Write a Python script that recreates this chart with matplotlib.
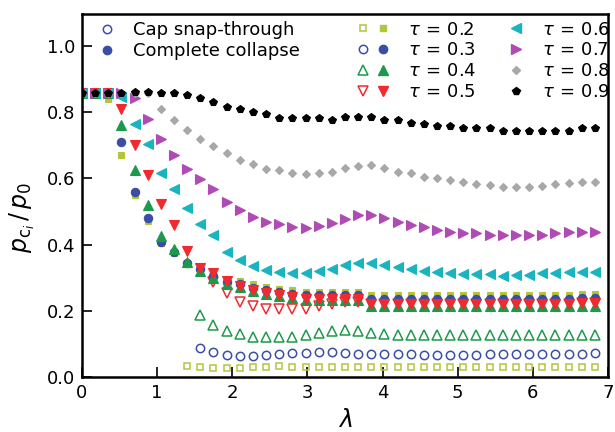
import numpy as np
import matplotlib
matplotlib.use("Agg")
import matplotlib.pyplot as plt
from matplotlib.lines import Line2D
from matplotlib.legend_handler import HandlerTuple

plt.rcParams['font.family'] = ['DejaVu Sans']
plt.rcParams['mathtext.fontset'] = 'dejavusans'

nan = np.nan

# lambda grid (step 0.175)
lam = [0.0, 0.175, 0.35, 0.525, 0.7, 0.875, 1.05, 1.225, 1.4, 1.575,
       1.75, 1.925, 2.1, 2.275, 2.45, 2.625, 2.8, 2.975, 3.15, 3.325,
       3.5, 3.675, 3.85, 4.025, 4.2, 4.375, 4.55, 4.725, 4.9, 5.075,
       5.25, 5.425, 5.6, 5.775, 5.95, 6.125, 6.3, 6.475, 6.65, 6.825]

taus = [0.2, 0.3, 0.4, 0.5, 0.6, 0.7, 0.8, 0.9]

# complete collapse (filled markers)
full_02 = [0.857, 0.857, 0.84, 0.671, 0.55, 0.47, 0.405, 0.375, 0.34, 0.33,
           0.31, 0.295, 0.29, 0.28, 0.272, 0.265, 0.262, 0.258, 0.258, 0.258,
           0.258, 0.258, 0.248, 0.248, 0.248, 0.248, 0.248, 0.248, 0.248, 0.248,
           0.248, 0.248, 0.248, 0.248, 0.248, 0.248, 0.248, 0.248, 0.252, 0.252]
full_03 = [0.857, 0.857, 0.857, 0.709, 0.56, 0.479, 0.409, 0.379, 0.345, 0.325,
           0.305, 0.288, 0.28, 0.268, 0.262, 0.256, 0.252, 0.247, 0.247, 0.247,
           0.247, 0.247, 0.236, 0.236, 0.236, 0.236, 0.236, 0.236, 0.236, 0.236,
           0.236, 0.236, 0.236, 0.236, 0.236, 0.236, 0.236, 0.236, 0.24, 0.24]
full_04 = [0.857, 0.857, 0.857, 0.761, 0.627, 0.52, 0.426, 0.386, 0.348, 0.32,
           0.30, 0.28, 0.272, 0.26, 0.252, 0.245, 0.24, 0.233, 0.232, 0.232,
           0.232, 0.232, 0.215, 0.215, 0.215, 0.215, 0.215, 0.215, 0.215, 0.215,
           0.215, 0.215, 0.215, 0.215, 0.215, 0.215, 0.215, 0.215, 0.215, 0.215]
full_05 = [0.857, 0.857, 0.857, 0.809, 0.70, 0.61, 0.522, 0.459, 0.382, 0.33,
           0.313, 0.29, 0.275, 0.262, 0.255, 0.248, 0.243, 0.237, 0.236, 0.236,
           0.236, 0.236, 0.222, 0.222, 0.222, 0.222, 0.222, 0.222, 0.222, 0.222,
           0.222, 0.222, 0.222, 0.222, 0.222, 0.222, 0.222, 0.222, 0.225, 0.225]
full_06 = [0.857, 0.857, 0.857, 0.847, 0.766, 0.703, 0.617, 0.567, 0.51, 0.461,
           0.429, 0.379, 0.354, 0.336, 0.323, 0.317, 0.314, 0.315, 0.319, 0.325,
           0.338, 0.345, 0.345, 0.338, 0.331, 0.325, 0.321, 0.316, 0.313, 0.312,
           0.312, 0.312, 0.305, 0.307, 0.309, 0.313, 0.313, 0.316, 0.316, 0.316]
full_07 = [0.857, 0.857, 0.857, 0.857, 0.842, 0.78, 0.719, 0.671, 0.628, 0.598,
           0.568, 0.53, 0.505, 0.484, 0.469, 0.461, 0.454, 0.449, 0.457, 0.464,
           0.476, 0.49, 0.49, 0.479, 0.469, 0.459, 0.454, 0.444, 0.439, 0.434,
           0.434, 0.429, 0.429, 0.429, 0.429, 0.43, 0.434, 0.439, 0.439, 0.439]
full_08 = [0.857, 0.857, 0.857, 0.857, 0.857, 0.857, 0.81, 0.776, 0.746, 0.718,
           0.697, 0.676, 0.657, 0.643, 0.63, 0.625, 0.618, 0.613, 0.618, 0.62,
           0.632, 0.639, 0.64, 0.632, 0.621, 0.615, 0.605, 0.60, 0.595, 0.59,
           0.582, 0.58, 0.575, 0.575, 0.575, 0.577, 0.582, 0.585, 0.59, 0.59]
full_09 = [0.857, 0.857, 0.857, 0.857, 0.86, 0.86, 0.857, 0.857, 0.851, 0.842,
           0.832, 0.817, 0.809, 0.80, 0.794, 0.784, 0.784, 0.784, 0.784, 0.776,
           0.785, 0.785, 0.785, 0.776, 0.776, 0.767, 0.766, 0.759, 0.759, 0.751,
           0.751, 0.751, 0.743, 0.743, 0.743, 0.743, 0.743, 0.743, 0.751, 0.751]

# cap snap-through (open markers)
cap_02 = [nan] * 8 + [0.033, 0.03, 0.028, 0.027, 0.027, 0.03, 0.03, 0.033, 0.031, 0.031,
                      0.031, 0.03, 0.03, 0.03, 0.031, 0.03, 0.03, 0.03, 0.031, 0.03,
                      0.03, 0.03, 0.031, 0.031, 0.03, 0.03, 0.03, 0.031, 0.03, 0.03,
                      0.03, 0.031]
cap_03 = [nan] * 9 + [0.087, 0.075, 0.066, 0.063, 0.063, 0.066, 0.07, 0.072, 0.074, 0.077,
                      0.075, 0.072, 0.071, 0.07, 0.07, 0.07, 0.069, 0.068, 0.067, 0.067,
                      0.068, 0.068, 0.069, 0.07, 0.07, 0.07, 0.07, 0.07, 0.07, 0.071,
                      0.073]
cap_04 = [nan] * 9 + [0.187, 0.157, 0.14, 0.13, 0.122, 0.12, 0.12, 0.122, 0.126, 0.134,
                      0.14, 0.142, 0.14, 0.133, 0.13, 0.128, 0.128, 0.128, 0.128, 0.127,
                      0.127, 0.127, 0.127, 0.127, 0.127, 0.127, 0.127, 0.127, 0.127, 0.128,
                      0.128]
cap_05 = [nan] * 10 + [0.288, 0.253, 0.228, 0.214, 0.207, 0.207, 0.207, 0.207, 0.214, 0.22,
                       0.226, 0.228, 0.222, 0.222, 0.222, 0.222, 0.222, 0.222, 0.222, 0.222,
                       0.222, 0.222, 0.222, 0.222, 0.222, 0.222, 0.222, 0.222, 0.225, 0.225]

full = [full_02, full_03, full_04, full_05, full_06, full_07, full_08, full_09]
caps = [cap_02, cap_03, cap_04, cap_05]

colors = ['#b4c53c', '#3b4ea6', '#1c9a4c', '#f02a2e', '#1ab4c0', '#b04ab4', '#a8a8a8', '#000000']
markers = ['s', 'o', '^', 'v', '<', '>', 'D', 'p']
sizes = [5, 6, 6.5, 6.5, 6.5, 6.5, 4.5, 6]

fig = plt.figure(figsize=(6.15, 4.32), dpi=100)
ax = fig.add_axes([0.1333, 0.1273, 0.8553, 0.8403])

for ys, c, m, s in zip(caps, colors, markers, sizes):
    ax.plot(lam, ys, ls='none', marker=m, ms=s, mfc='none', mec=c, mew=1.1)
for ys, c, m, s in zip(full, colors, markers, sizes):
    ax.plot(lam, ys, ls='none', marker=m, ms=s, mfc=c, mec=c, mew=0.8)

ax.set_xlim(0, 7)
ax.set_ylim(0, 1.097)
ax.set_xticks(range(8))
ax.set_yticks([0.0, 0.2, 0.4, 0.6, 0.8, 1.0])
ax.set_yticklabels(['0.0', '0.2', '0.4', '0.6', '0.8', '1.0'])
ax.tick_params(direction='in', length=7, width=1.2, labelsize=13, pad=5)
for sp in ax.spines.values():
    sp.set_linewidth(1.8)
ax.set_xlabel(r'$\lambda$', fontsize=17, labelpad=4)
ax.set_ylabel(r'$p_{\mathrm{c}_i}\,/\,p_0$', fontsize=17)
ax.yaxis.set_label_coords(-0.086, 0.44)

# legend for marker style meaning
h_open = Line2D([], [], ls='none', marker='o', ms=6, mfc='none', mec=colors[1], mew=1.1)
h_full = Line2D([], [], ls='none', marker='o', ms=6, mfc=colors[1], mec=colors[1])
leg1 = ax.legend([h_open, h_full], ['Cap snap-through', 'Complete collapse'],
                 loc='upper left', bbox_to_anchor=(0.0, 1.025), frameon=False,
                 fontsize=13, handlelength=1.0, handletextpad=0.9, labelspacing=0.15)
ax.add_artist(leg1)

# legends for tau values, one per column
labels = [r'$\tau\,=\,%.1f$' % t for t in taus]
pairs = []
for c, m, s in zip(colors[:4], markers[:4], sizes[:4]):
    opened = Line2D([], [], ls='none', marker=m, ms=s, mfc='none', mec=c, mew=1.1)
    filled = Line2D([], [], ls='none', marker=m, ms=s, mfc=c, mec=c)
    pairs.append((opened, filled))
leg2 = ax.legend(pairs, labels[:4], loc='upper left', bbox_to_anchor=(0.5247, 0.982),
                 frameon=False, fontsize=13, borderpad=0, borderaxespad=0,
                 handlelength=1.66, handletextpad=1.1, labelspacing=0.16,
                 handler_map={tuple: HandlerTuple(ndivide=None, pad=0.55)})
ax.add_artist(leg2)

singles = [Line2D([], [], ls='none', marker=m, ms=s, mfc=c, mec=c)
           for c, m, s in zip(colors[4:], markers[4:], sizes[4:])]
ax.legend(singles, labels[4:], loc='upper left', bbox_to_anchor=(0.808, 0.982),
          frameon=False, fontsize=13, borderpad=0, borderaxespad=0,
          handlelength=1.0, handletextpad=0.95, labelspacing=0.16)

fig.savefig('out.png', dpi=100)
